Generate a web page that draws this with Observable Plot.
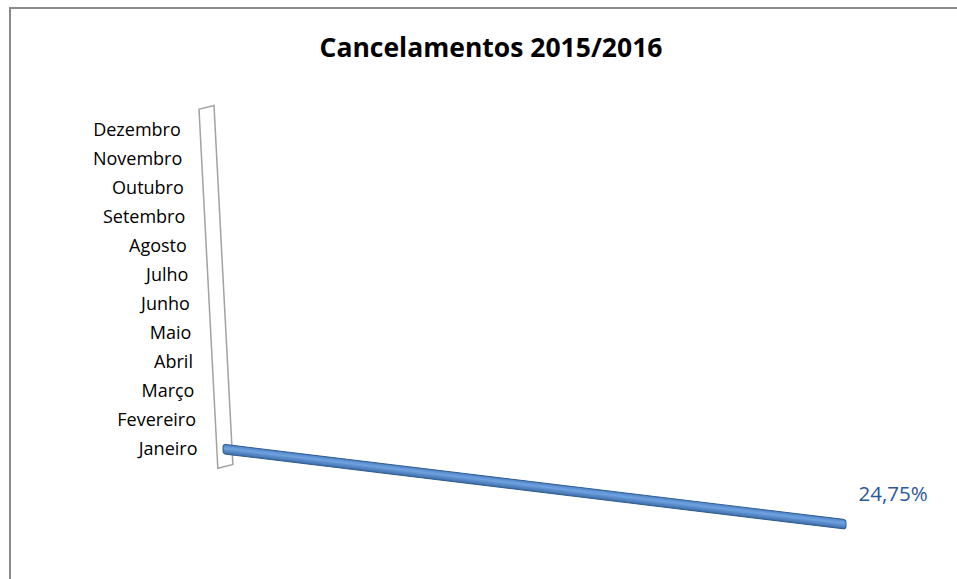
<!DOCTYPE html>
<html><head><meta charset="utf-8">
<script src="https://cdn.jsdelivr.net/npm/d3@7"></script>
<script src="https://cdn.jsdelivr.net/npm/@observablehq/plot@0.6"></script>
<style>
html,body{margin:0;padding:0;background:#fff;overflow:hidden;width:957px;height:579px;}
#frame{position:absolute;left:9px;top:7px;width:1000px;height:700px;border:2px solid #8a8a8a;box-sizing:border-box}
#title{position:absolute;left:0;width:982px;top:29px;text-align:center;font:bold 26.5px "Open Sans";color:#000;line-height:36px}
#chart{position:absolute;left:0;top:0}
</style></head><body>
<div id="frame"></div>
<div id="title">Cancelamentos 2015/2016</div>
<div id="chart"></div>
<script>
const months = ["Janeiro","Fevereiro","Março","Abril","Maio","Junho","Julho","Agosto","Setembro","Outubro","Novembro","Dezembro"];
const values = [0.2475, null, null, null, null, null, null, null, null, null, null, null];

const data = months.map((m, i) => ({month: m, value: values[i]}));
const bars = data.filter(d => d.value != null);
const fmt = d3.formatLocale({decimal: ",", thousands: ".", grouping: [3], currency: ["R$", ""]}).format(".2%");

// perspective factors
const kx = 0.0525;    // wall / labels lean
const kyWall = -0.25; // wall top/bottom tilt
const kyBar = 0.121;  // bar slope

function wrap(g, transform) {
  const w = document.createElementNS("http://www.w3.org/2000/svg", "g");
  w.setAttribute("transform", transform);
  w.appendChild(g);
  return w;
}

function wallRender(index, scales, values, dims, ctx, next) {
  const g = next(index, scales, values, dims, ctx);
  const x0 = scales.x(0), yb = dims.height - dims.marginBottom;
  return wrap(g, `matrix(1,${kyWall},${kx},1,${-kx * yb},${-kyWall * x0})`);
}
function barRender(index, scales, values, dims, ctx, next) {
  const g = next(index, scales, values, dims, ctx);
  const x0 = scales.x(0);
  return wrap(g, `matrix(1,${kyBar},0,1,0,${-kyBar * x0})`);
}
function labelRender(index, scales, values, dims, ctx, next) {
  const g = next(index, scales, values, dims, ctx);
  const Y = values.y, yj = scales.y("Janeiro");
  g.querySelectorAll("text").forEach((t, j) => {
    const s = kx * (Y[index[j]] - yj);
    t.setAttribute("transform", `translate(${s},0) ` + (t.getAttribute("transform") || ""));
  });
  return g;
}
function valueRender(index, scales, values, dims, ctx, next) {
  const g = next(index, scales, values, dims, ctx);
  const X = values.x, x0 = scales.x(0);
  g.querySelectorAll("text").forEach((t, j) => {
    const s = kyBar * (X[index[j]] - x0);
    t.setAttribute("transform", `translate(0,${s}) ` + (t.getAttribute("transform") || ""));
  });
  return g;
}

const plot = Plot.plot({
  width: 957,
  height: 579,
  marginLeft: 223,
  marginRight: 111,
  marginTop: 110,
  marginBottom: 109,
  style: {background: "transparent", fontFamily: "Open Sans", fontSize: "18px"},
  x: {domain: [0, 0.2475], axis: null},
  y: {domain: months.slice().reverse(), axis: null, padding: 0.1},
  marks: [
    Plot.rect([0], {x1: () => 0, x2: () => 0, insetLeft: -5, insetRight: -10, insetTop: -2, insetBottom: 3,
      fill: "white", stroke: "#a3a3a3", strokeWidth: 1.5, render: wallRender}),
    Plot.text(data, {x: () => 0, y: "month", text: "month", textAnchor: "end", dx: -26,
      fontSize: 18, fill: "#000", render: labelRender}),
    Plot.barX(bars, {x: "value", y: "month", fill: "url(#barGrad)", stroke: "#2d5b8e", strokeWidth: 1,
      insetTop: 8.2, insetBottom: 8.2, rx: 3, render: barRender}),
    Plot.text(bars, {x: "value", y: "month", text: d => fmt(d.value), textAnchor: "start", dx: 12, dy: -30,
      fontSize: 20.5, fill: "#2b5797", render: valueRender})
  ]
});

const defs = document.createElementNS("http://www.w3.org/2000/svg", "defs");
defs.innerHTML = `<linearGradient id="barGrad" x1="0" y1="0" x2="0" y2="1">
  <stop offset="0" stop-color="#4d82c4"/><stop offset="0.4" stop-color="#6fa2e0"/><stop offset="1" stop-color="#3b6ca8"/>
</linearGradient>`;
plot.prepend(defs);
document.getElementById("chart").appendChild(plot);
</script>
</body></html>
